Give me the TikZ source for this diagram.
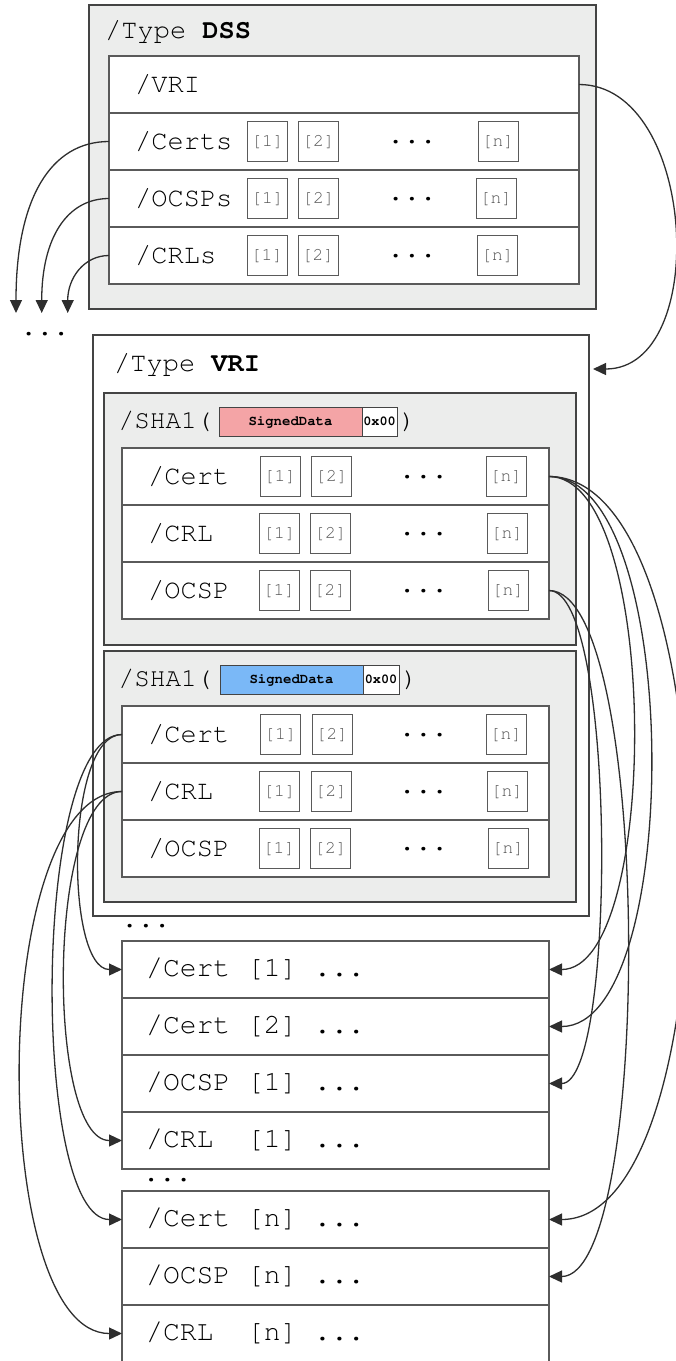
\documentclass[tikz,border=0pt]{standalone}
\usepackage[T1]{fontenc}
\usepackage{courier}
\usetikzlibrary{positioning,arrows.meta,calc}

\definecolor{boxgray}{HTML}{ECEDEC}
\definecolor{edgegray}{HTML}{444444}
\definecolor{rowgray}{HTML}{5A5A5A}
\definecolor{refgray}{HTML}{555555}
\definecolor{sigred}{HTML}{F4A4A6}
\definecolor{sigblue}{HTML}{7AB8F7}
\definecolor{wire}{HTML}{2E2E2E}

\tikzset{
	dict/.style={draw=edgegray, line width=1.5pt, fill=boxgray, anchor=north west, inner sep=0pt, outer sep=0pt},
	entry/.style={draw=rowgray, line width=1.2pt, fill=white, anchor=north west, minimum height=57pt, inner sep=0pt, outer sep=0pt},
	key/.style={anchor=west, inner sep=0pt, font=\ttfamily\fontsize{27}{30}\selectfont},
	ref/.style={draw=rowgray, line width=1pt, text=refgray, minimum width=40pt, minimum height=40pt, inner sep=0pt, font=\ttfamily\fontsize{18}{20}\selectfont},
	gap/.style={inner sep=0pt, font=\ttfamily\bfseries\fontsize{27}{30}\selectfont},
	hash/.style={draw=edgegray, line width=1pt, minimum height=29pt, inner sep=0pt, outer sep=0pt, anchor=west, font=\ttfamily\bfseries\fontsize{14}{16}\selectfont},
	link/.style={draw=wire, line width=1.3pt, -{Triangle[length=13pt,width=12pt]}}
}

% [1] [2] ... [n] inside a row: row, x of [1], x of [2], x of dots, x of [n]
\newcommand{\refrow}[5]{%
	\node[ref] (#1-1) at (#2,0 |- #1) {[1]};
	\node[ref] (#1-2) at (#3,0 |- #1) {[2]};
	\node[gap] (#1-dots) at (#4,0 |- #1) {...};
	\node[ref] (#1-n) at (#5,0 |- #1) {[n]};}

\begin{document}
\begin{tikzpicture}[x=1pt,y=-1pt]
	\useasboundingbox (0,0) rectangle (676,1361);
	
	%%%%% DSS %%%%%
	\node[dict, minimum width=507pt, minimum height=304pt] (dss) at (89,5) {};
	\node[key] (dsstitle) at (105,32) {/Type \textbf{DSS}};
	
	\node[entry, minimum width=470pt] (vri) at (109,56) {};
	\node[entry, minimum width=470pt, below=0pt of vri] (certs) {};
	\node[entry, minimum width=470pt, below=0pt of certs] (ocsps) {};
	\node[entry, minimum width=470pt, below=0pt of ocsps] (crls) {};
	
	\node[key, right=26pt of vri.west] (vrikey) {/VRI};
	\node[key, right=26pt of certs.west] (certskey) {/Certs};
	\node[key, right=26pt of ocsps.west] (ocspskey) {/OCSPs};
	\node[key, right=26pt of crls.west] (crlskey) {/CRLs};
	
	\refrow{certs}{267.5}{318.5}{412}{498}
	\refrow{ocsps}{267.5}{318.5}{412}{496}
	\refrow{crls}{267}{318}{412}{497.5}
	
	\coordinate (certsend) at (16,313);
	\coordinate (ocspsend) at (41.7,313);
	\coordinate (crlsend) at (67.7,313);
	\node[gap] (moredss) at (45,334) {...};
	
	%%%%% VRI %%%%%
	\node[dict, fill=white, minimum width=496pt, minimum height=581pt] (vribox) at (93,335) {};
	\node[key] (vrititle) at (114,365) {/Type \textbf{VRI}};
	\coordinate (vrientry) at (593,369);
	
	% first hash
	\node[dict, minimum width=472pt, minimum height=252pt] (hashA) at (104,393) {};
	\node[key, font=\ttfamily\fontsize{26}{30}\selectfont] (shaA) at (118.5,422) {/SHA1(};
	\node[hash, fill=sigred, minimum width=143pt] (sigA) at (219,421.5) {SignedData};
	\node[hash, fill=white, minimum width=35pt, right=0pt of sigA, font=\ttfamily\bfseries\fontsize{13.5}{16}\selectfont] (zeroA) {0x00};
	\node[key, font=\ttfamily\fontsize{26}{30}\selectfont, right=3pt of zeroA] (closeA) {)};
	
	\node[entry, minimum width=427pt] (certA) at (122,448) {};
	\node[entry, minimum width=427pt, below=0pt of certA] (crlA) {};
	\node[entry, minimum width=427pt, below=0pt of crlA] (ocspA) {};
	\node[key, right=26pt of certA.west] (certAkey) {/Cert};
	\node[key, right=26pt of crlA.west] (crlAkey) {/CRL};
	\node[key, right=26pt of ocspA.west] (ocspAkey) {/OCSP};
	\refrow{certA}{280}{331.5}{423.5}{506}
	\refrow{crlA}{279.5}{330.5}{423.5}{507}
	\refrow{ocspA}{279}{330}{423.5}{508}
	
	% second hash
	\node[dict, minimum width=472pt, minimum height=251pt] (hashB) at (104,651) {};
	\node[key, font=\ttfamily\fontsize{26}{30}\selectfont] (shaB) at (118.5,680) {/SHA1(};
	\node[hash, fill=sigblue, minimum width=143pt] (sigB) at (220,679.5) {SignedData};
	\node[hash, fill=white, minimum width=36pt, right=0pt of sigB, font=\ttfamily\bfseries\fontsize{13.5}{16}\selectfont] (zeroB) {0x00};
	\node[key, font=\ttfamily\fontsize{26}{30}\selectfont, right=3pt of zeroB] (closeB) {)};
	
	\node[entry, minimum width=427pt] (certB) at (122,706) {};
	\node[entry, minimum width=427pt, below=0pt of certB] (crlB) {};
	\node[entry, minimum width=427pt, below=0pt of crlB] (ocspB) {};
	\node[key, right=26pt of certB.west] (certBkey) {/Cert};
	\node[key, right=26pt of crlB.west] (crlBkey) {/CRL};
	\node[key, right=26pt of ocspB.west] (ocspBkey) {/OCSP};
	\refrow{certB}{280.5}{332}{423.5}{506}
	\refrow{crlB}{279.5}{331}{423.5}{507}
	\refrow{ocspB}{279}{330.5}{423.5}{508}
	
	\node[gap] (morevri) at (146,926) {...};
	
	%%%%% OBJECTS %%%%%
	\node[entry, minimum width=427pt] (cert1) at (122,941) {};
	\node[entry, minimum width=427pt, below=0pt of cert1] (cert2) {};
	\node[entry, minimum width=427pt, below=0pt of cert2] (ocsp1) {};
	\node[entry, minimum width=427pt, below=0pt of ocsp1] (crl1) {};
	\node[key, font=\ttfamily\fontsize{28}{30}\selectfont, right=24pt of cert1.west] (cert1key) {/Cert [1] \textbf{...}};
	\node[key, font=\ttfamily\fontsize{28}{30}\selectfont, right=24pt of cert2.west] (cert2key) {/Cert [2] \textbf{...}};
	\node[key, font=\ttfamily\fontsize{28}{30}\selectfont, right=24pt of ocsp1.west] (ocsp1key) {/OCSP [1] \textbf{...}};
	\node[key, font=\ttfamily\fontsize{28}{30}\selectfont, right=24pt of crl1.west] (crl1key) {/CRL\ \ [1] \textbf{...}};
	
	\node[gap] (moreobj) at (167.5,1180) {...};
	
	\node[entry, minimum width=427pt] (certn) at (122,1191) {};
	\node[entry, minimum width=427pt, below=0pt of certn] (ocspn) {};
	\node[entry, minimum width=427pt, below=0pt of ocspn] (crln) {};
	\node[key, font=\ttfamily\fontsize{28}{30}\selectfont, right=24pt of certn.west] (certnkey) {/Cert [n] \textbf{...}};
	\node[key, font=\ttfamily\fontsize{28}{30}\selectfont, right=24pt of ocspn.west] (ocspnkey) {/OCSP [n] \textbf{...}};
	\node[key, font=\ttfamily\fontsize{28}{30}\selectfont, right=24pt of crln.west] (crlnkey) {/CRL\ \ [n] \textbf{...}};
	
	%%%%% LINKS %%%%%
	\draw[link] (vri.east) .. controls +(118,0) and +(118,0) .. (vrientry);
	
	\draw[link] (certs.west) .. controls +(-58,0) and +(0,-115) .. (certsend);
	\draw[link] (ocsps.west) .. controls +(-42,0) and +(0,-75) .. (ocspsend);
	\draw[link] (crls.west) .. controls +(-25,0) and +(0,-35) .. (crlsend);
	
	\draw[link] (certA.east) .. controls +(112,0) and +(112,0) .. (cert1.east);
	\draw[link] (certA.east) .. controls +(135,0) and +(135,0) .. (cert2.east);
	\draw[link] (certA.east) .. controls +(184,0) and +(184,0) .. (certn.east);
	\draw[link] (ocspA.east) .. controls +(68,0) and +(68,0) .. (ocsp1.east);
	\draw[link] (ocspA.east) .. controls +(104,0) and +(104,0) .. (ocspn.east);
	
	\draw[link] (certB.west) .. controls +(-57,0) and +(-57,0) .. (cert1.west);
	\draw[link] (certB.west) .. controls +(-91,0) and +(-91,0) .. (certn.west);
	\draw[link] (crlB.west) .. controls +(-76,0) and +(-76,0) .. (crl1.west);
	\draw[link] (crlB.west) .. controls +(-135,0) and +(-135,0) .. (crln.west);
\end{tikzpicture}
\end{document}
